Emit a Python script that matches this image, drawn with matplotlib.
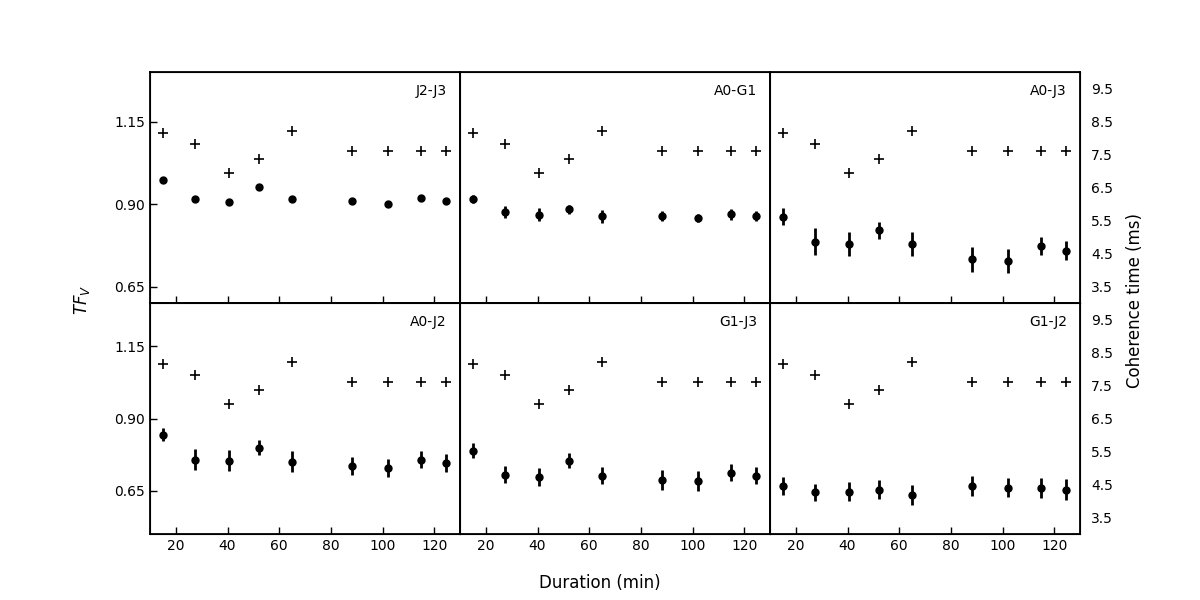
import numpy as np
import matplotlib
matplotlib.use("Agg")
import matplotlib.pyplot as plt

# durations (min)
duration = [15, 27.5, 40.5, 52, 65, 88, 102, 115, 124.5]

# coherence time (ms), same in every panel
coherence = [8.15, 7.82, 6.94, 7.36, 8.21, 7.6, 7.6, 7.6, 7.6]

names = ["J2-J3", "A0-G1", "A0-J3", "A0-J2", "G1-J3", "G1-J2"]

tfv_j2j3 = [0.973, 0.915, 0.906, 0.952, 0.915, 0.909, 0.901, 0.918, 0.909]
err_j2j3 = [0.005, 0.005, 0.006, 0.005, 0.005, 0.005, 0.005, 0.005, 0.005]

tfv_a0g1 = [0.915, 0.876, 0.867, 0.884, 0.863, 0.863, 0.857, 0.869, 0.863]
err_a0g1 = [0.012, 0.018, 0.020, 0.014, 0.020, 0.016, 0.013, 0.017, 0.016]

tfv_a0j3 = [0.861, 0.785, 0.779, 0.820, 0.779, 0.732, 0.727, 0.772, 0.759]
err_a0j3 = [0.026, 0.041, 0.037, 0.026, 0.037, 0.037, 0.036, 0.027, 0.029]

tfv_a0j2 = [0.844, 0.758, 0.754, 0.799, 0.750, 0.736, 0.729, 0.758, 0.747]
err_a0j2 = [0.023, 0.035, 0.037, 0.027, 0.036, 0.032, 0.030, 0.031, 0.031]

tfv_g1j3 = [0.789, 0.705, 0.698, 0.754, 0.702, 0.688, 0.684, 0.712, 0.702]
err_g1j3 = [0.026, 0.030, 0.031, 0.026, 0.030, 0.035, 0.035, 0.029, 0.029]

tfv_g1j2 = [0.665, 0.644, 0.647, 0.654, 0.636, 0.665, 0.660, 0.660, 0.654]
err_g1j2 = [0.031, 0.030, 0.032, 0.034, 0.034, 0.035, 0.033, 0.035, 0.035]

tfv_all = [tfv_j2j3, tfv_a0g1, tfv_a0j3, tfv_a0j2, tfv_g1j3, tfv_g1j2]
err_all = [err_j2j3, err_a0g1, err_a0j3, err_a0j2, err_g1j3, err_g1j2]

fig, axes = plt.subplots(2, 3, figsize=(12, 6), dpi=100)
fig.subplots_adjust(left=0.125, right=0.9, top=0.88, bottom=0.11, wspace=0, hspace=0)

for i, ax in enumerate(axes.flat):
    row, col = divmod(i, 3)
    ax.errorbar(duration, tfv_all[i], yerr=err_all[i], fmt='o', color='black',
                markersize=5, elinewidth=2, capsize=0)
    ax.set_xlim(10, 130)
    ax.set_xticks([20, 40, 60, 80, 100, 120])
    if row == 0:
        ax.set_ylim(0.6, 1.3)
    else:
        ax.set_ylim(0.5, 1.3)
    ax.set_yticks([0.65, 0.90, 1.15])

    ax2 = ax.twinx()
    ax2.plot(duration, coherence, '+', color='black', markersize=7, markeredgewidth=1.2)
    ax2.set_ylim(3, 10)
    ax2.set_yticks([3.5, 4.5, 5.5, 6.5, 7.5, 8.5, 9.5])
    ax2.tick_params(axis='y', length=0, labelsize=10, pad=8)
    if col != 2:
        ax2.tick_params(axis='y', labelright=False)

    # twinx resets the left ticks, so set them afterwards
    ax.tick_params(direction='in', labelsize=10, width=1, length=5)
    if row == 0:
        ax.tick_params(axis='x', labelbottom=False)
    if col != 0:
        ax.tick_params(axis='y', left=False, labelleft=False)
    for s in ax2.spines.values():
        s.set_linewidth(1.3)

    ax.text(0.958, 0.918, names[i], transform=ax.transAxes, ha='right', va='center',
            fontsize=10)

fig.text(0.5, 0.028, "Duration (min)", ha='center', va='center', fontsize=12)
fig.text(0.068, 0.5, "$TF_V$", ha='center', va='center', rotation=90, fontsize=12)
fig.text(0.946, 0.5, "Coherence time (ms)", ha='center', va='center', rotation=90, fontsize=12)

plt.savefig("out.png")
